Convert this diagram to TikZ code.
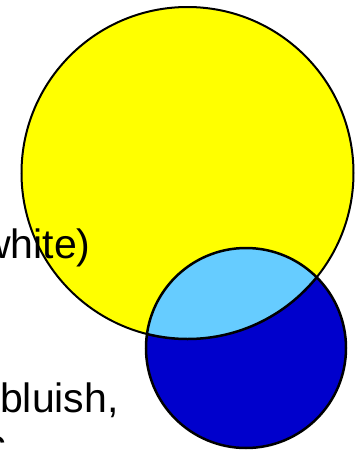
\documentclass[tikz,border=0pt]{standalone}
\usepackage{fontspec}
\setmainfont{Liberation Sans}
\usepackage{xcolor}
\definecolor{sunyellow}{RGB}{255,255,0}
\definecolor{deepblue}{RGB}{0,0,204}
\definecolor{skyblue}{RGB}{102,204,255}

\begin{document}
\begin{tikzpicture}[x=1pt,y=-1pt,
  lbl/.style={anchor=base west,inner sep=0pt,font=\fontsize{41}{47}\selectfont}]
\useasboundingbox (0,0) rectangle (356,451);
\fill[sunyellow] (187.5,173) circle[radius=166];
\draw[line width=2pt] (187.5,173) circle[radius=166];
\fill[deepblue] (246,348) circle[radius=100];
\begin{scope}
\clip (246,348) circle[radius=100];
\fill[skyblue] (187.5,173) circle[radius=166];
\draw[line width=2.5pt] (187.5,173) circle[radius=166];
\end{scope}
\draw[line width=2.5pt] (246,348) circle[radius=100];
\node[lbl] (white) at (-19,258) {white)};
\node[lbl] (bluish) at (0,412) {bluish,};
\node[lbl] (cut) at (-15,458) {c};
\end{tikzpicture}
\end{document}
